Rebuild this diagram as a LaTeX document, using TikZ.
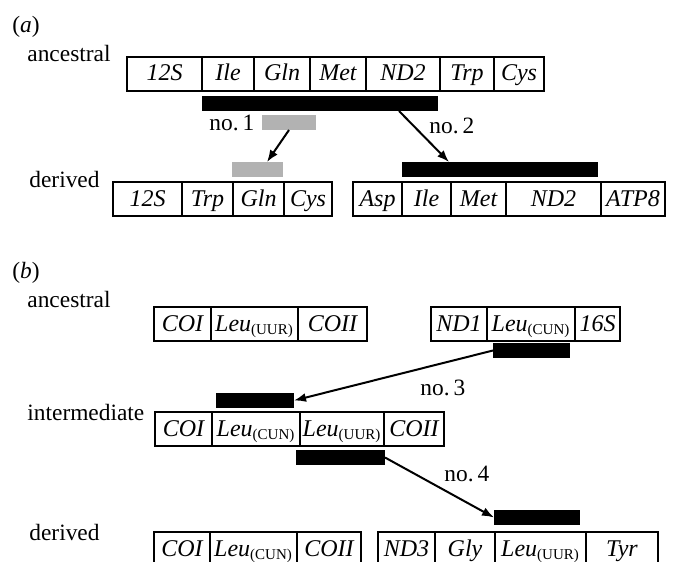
\documentclass[tikz,border=0pt]{standalone}
\usepackage{fontspec}
\setmainfont{Liberation Serif}
\usetikzlibrary{positioning, arrows.meta}
\usepackage{xcolor}
\definecolor{bargray}{RGB}{178,178,178}
\newcommand{\trna}[1]{\textsubscript{\fontsize{7.5}{8}\selectfont\upshape(#1)}}

\begin{document}
\begin{tikzpicture}[x=0.5pt,y=-0.5pt]
	\tikzset{
		cell/.style={%
			draw,
			line width=0.7pt,
			inner sep=0pt,
			outer sep=0pt,
			minimum height=17pt,
			text height=9.5pt,
			text depth=2.5pt,
			font=\fontsize{12}{14}\selectfont\itshape},
		bar/.style={fill=black, inner sep=0pt, outer sep=0pt, minimum height=7.5pt},
		lbl/.style={anchor=base west, inner sep=0pt, font=\fontsize{11.7}{14}\selectfont}
	}

	\tikzstyle{frame_style} = [draw=black, line width=1.3pt]
	\tikzstyle{arrow_style} = [draw=black, line width=1pt, -{Latex[length=6pt,width=4.5pt]}]

	\useasboundingbox (0,0) rectangle (673,561);
	\clip (0,0) rectangle (673,561);

	% (a)
	\node[lbl] (la) at (12,33) {(\textit{a})};
	\node[lbl] (anca) at (27,62) {ancestral};
	\node[lbl] (dera) at (29,188) {derived};

	\node[cell, minimum width=37.5pt, anchor=north west] (a1) at (127,57) {12S};
	\node[cell, minimum width=26pt, right=0pt of a1] (a2) {Ile};
	\node[cell, minimum width=28pt, right=0pt of a2] (a3) {Gln};
	\node[cell, minimum width=28pt, right=0pt of a3] (a4) {Met};
	\node[cell, minimum width=37pt, right=0pt of a4] (a5) {ND2};
	\node[cell, minimum width=27pt, right=0pt of a5] (a6) {Trp};
	\node[cell, minimum width=25pt, right=0pt of a6] (a7) {Cys};
	\draw[frame_style] (a1.north west) rectangle (a7.south east);

	\node[cell, minimum width=34.5pt, anchor=north west] (d1) at (113,182) {12S};
	\node[cell, minimum width=25.5pt, right=0pt of d1] (d2) {Trp};
	\node[cell, minimum width=25.5pt, right=0pt of d2] (d3) {Gln};
	\node[cell, minimum width=24pt, right=0pt of d3] (d4) {Cys};
	\draw[frame_style] (d1.north west) rectangle (d4.south east);

	\node[cell, minimum width=24.5pt, anchor=north west] (e1) at (353,182) {Asp};
	\node[cell, minimum width=24.5pt, right=0pt of e1] (e2) {Ile};
	\node[cell, minimum width=27.5pt, right=0pt of e2] (e3) {Met};
	\node[cell, minimum width=47.5pt, right=0pt of e3] (e4) {ND2};
	\node[cell, minimum width=32pt, right=0pt of e4] (e5) {ATP8};
	\draw[frame_style] (e1.north west) rectangle (e5.south east);

	\node[bar, minimum width=118pt, anchor=north west] (bar1) at (202,96) {};
	\node[bar, fill=bargray, minimum width=27pt, anchor=north west] (gray1) at (262,115) {};
	\node[bar, fill=bargray, minimum width=25.5pt, anchor=north west] (gray2) at (232,162) {};
	\node[bar, minimum width=98pt, anchor=north west] (bar2) at (402,162) {};

	\node[lbl] (no1) at (209,131) {no.\,1};
	\node[lbl] (no2) at (429,134) {no.\,2};

	\draw[arrow_style] (gray1.south) -- ([xshift=4.75pt]gray2.north);
	\draw[arrow_style] ([xshift=-19.5pt]bar1.south east) -- ([xshift=23.5pt]bar2.north west);

	% (b)
	\node[lbl] (lb) at (12,278) {(\textit{b})};
	\node[lbl] (ancb) at (27,307) {ancestral};
	\node[lbl] (intb) at (27,420) {intermediate};
	\node[lbl] (derb) at (29,540) {derived};

	\node[cell, minimum width=28.5pt, anchor=north west] (p1) at (154,307) {COI};
	\node[cell, minimum width=43.5pt, right=0pt of p1] (p2) {Leu\trna{UUR}};
	\node[cell, minimum width=34.5pt, right=0pt of p2] (p3) {COII};
	\draw[frame_style] (p1.north west) rectangle (p3.south east);

	\node[cell, minimum width=28pt, anchor=north west] (q1) at (431,307) {ND1};
	\node[cell, minimum width=44pt, right=0pt of q1] (q2) {Leu\trna{CUN}};
	\node[cell, minimum width=22.5pt, right=0pt of q2] (q3) {16S};
	\draw[frame_style] (q1.north west) rectangle (q3.south east);

	\node[bar, minimum width=38.5pt, anchor=north west] (bar3) at (493,343) {};
	\node[bar, minimum width=39pt, anchor=north west] (bar3b) at (216,393) {};

	\node[cell, minimum width=28.5pt, anchor=north west] (m1) at (155,412) {COI};
	\node[cell, minimum width=44pt, right=0pt of m1] (m2) {Leu\trna{CUN}};
	\node[cell, minimum width=42pt, right=0pt of m2] (m3) {Leu\trna{UUR}};
	\node[cell, minimum width=30pt, right=0pt of m3] (m4) {COII};
	\draw[frame_style] (m1.north west) rectangle (m4.south east);

	\node[bar, minimum width=44.5pt, anchor=north west] (bar4) at (296,450) {};
	\node[bar, minimum width=43pt, anchor=north west] (bar4b) at (494,510) {};

	\node[lbl] (no3) at (420,395) {no.\,3};
	\node[lbl] (no4) at (444,481) {no.\,4};

	\draw[arrow_style] (bar3.west) -- (bar3b.east);
	\draw[arrow_style] (bar4.east) -- (bar4b.west);

	\node[cell, minimum width=28pt, anchor=north west] (r1) at (154,532) {COI};
	\node[cell, minimum width=43.5pt, right=0pt of r1] (r2) {Leu\trna{CUN}};
	\node[cell, minimum width=32pt, right=0pt of r2] (r3) {COII};
	\draw[frame_style] (r1.north west) rectangle (r3.south east);

	\node[cell, minimum width=28.5pt, anchor=north west] (s1) at (378,532) {ND3};
	\node[cell, minimum width=30pt, right=0pt of s1] (s2) {Gly};
	\node[cell, minimum width=45.5pt, right=0pt of s2] (s3) {Leu\trna{UUR}};
	\node[cell, minimum width=36pt, right=0pt of s3] (s4) {Tyr};
	\draw[frame_style] (s1.north west) rectangle (s4.south east);

\end{tikzpicture}
\end{document}
